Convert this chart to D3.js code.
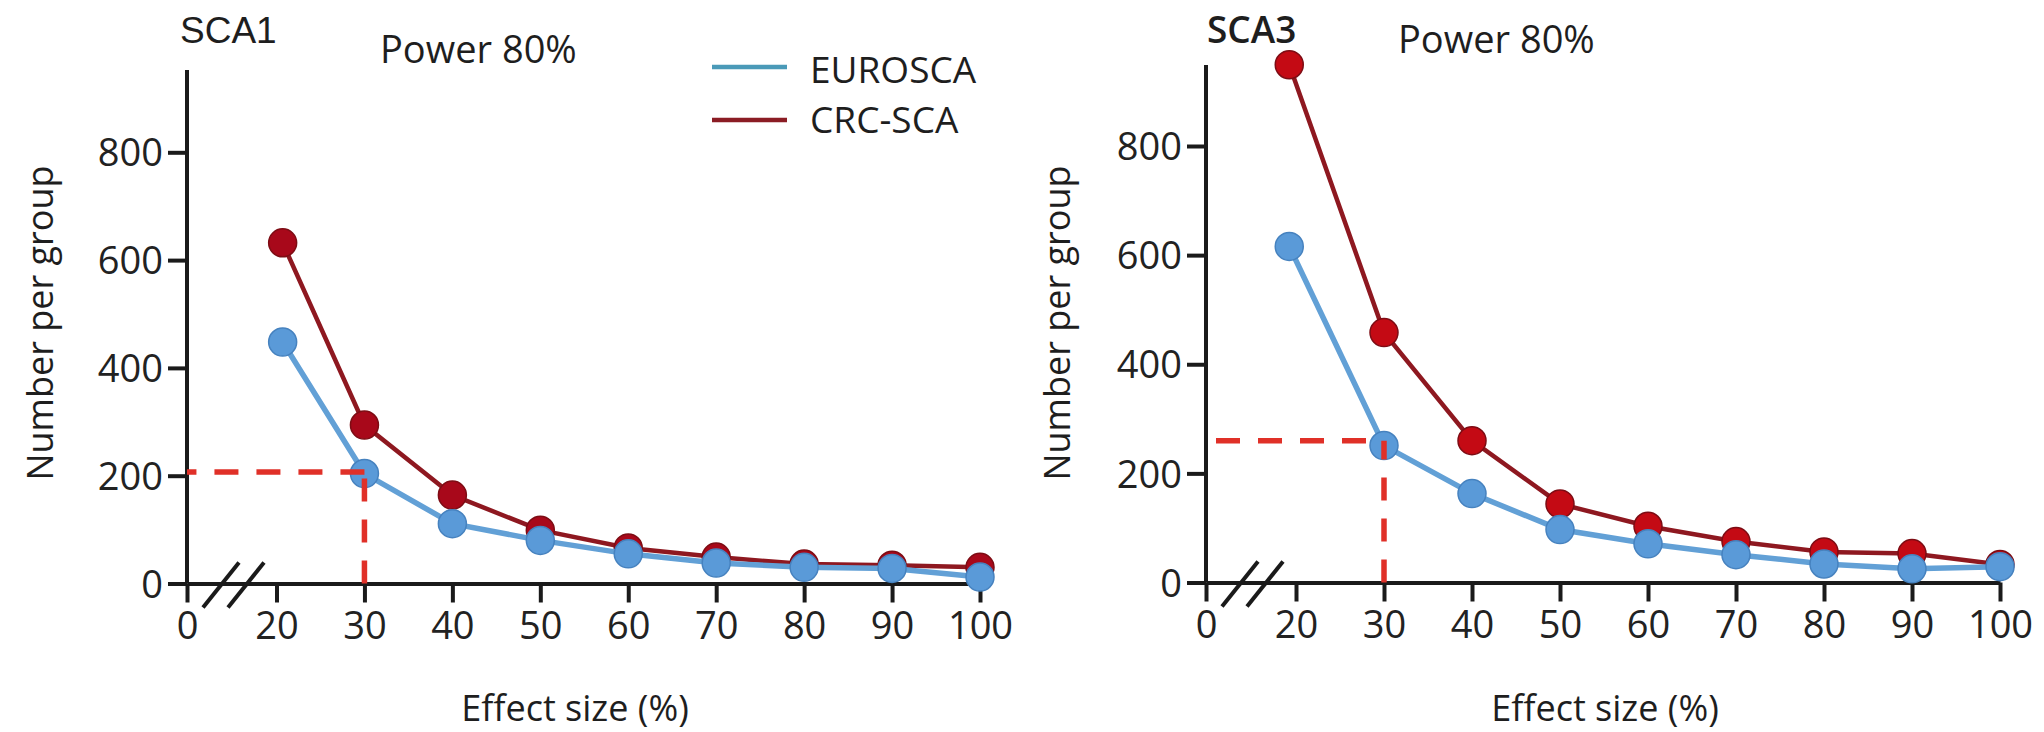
<!DOCTYPE html>
<html>
<head>
<meta charset="utf-8">
<title>Sample size per group, power 80%</title>
<script src="https://cdn.jsdelivr.net/npm/d3@7"></script>
<style>
  html, body { margin: 0; padding: 0; background: #fff; }
  svg { display: block; }
  .tick text { font-family: "Open Sans", sans-serif; font-size: 38px; fill: #222; }
  .tick line { stroke: #1a1a1a; stroke-width: 4px; }
  .lbl { font-family: "Open Sans", sans-serif; fill: #1e1e1e; }
</style>
<script>
// x values are effect sizes (%), y values are number per group
var effectTicks = [0, 20, 30, 40, 50, 60, 70, 80, 90, 100];
var nTicks = [0, 200, 400, 600, 800];

var sca1Effect = [20.7, 30, 40, 50, 60, 70, 80, 90, 100];
var sca1Euro   = [448, 204, 111, 80, 55, 38, 30, 28, 12];
var sca1Crc    = [632, 294, 164, 99, 66, 49, 36, 34, 30];
var sca1Ref    = [30, 207];   // dashed guide: effect, n

var sca3Effect = [18.5, 30, 40, 50, 60, 70, 80, 90, 100];
var sca3Euro   = [616, 251, 163, 97, 71, 51, 34, 25, 29];
var sca3Crc    = [949, 458, 260, 144, 103, 75, 56, 53, 33];
var sca3Ref    = [30, 260];

var seriesNames = ['EUROSCA', 'CRC-SCA'];

// layout of the two panels (pixels)
var panels = [
  { title: 'SCA1', titleFont: '"Liberation Sans", Arial, sans-serif', titleWeight: 400,
    titleX: 180, powerX: 380, powerY: 63,
    x0: 187, x20: 276.5, x100: 980, y0: 583.5, y800: 152.3, yTop: 70,
    effect: sca1Effect, euro: sca1Euro, crc: sca1Crc, ref: sca1Ref,
    crcDot: '#a8081a', refOffset: 0,
    yLabelX: 40, xLabelX: 575 },
  { title: 'SCA3', titleFont: '"Open Sans", sans-serif', titleWeight: 600,
    titleX: 1207, powerX: 1398, powerY: 53,
    x0: 1206, x20: 1296, x100: 2000, y0: 582.5, y800: 146, yTop: 65,
    effect: sca3Effect, euro: sca3Euro, crc: sca3Crc, ref: sca3Ref,
    crcDot: '#c40a14', refOffset: 24,
    yLabelX: 1057, xLabelX: 1605 }
];

var EURO_LINE = '#62a0d6', EURO_DOT = '#5a9ad8', EURO_EDGE = '#4682bf';
var CRC_LINE = '#8e1820', CRC_EDGE = '#7d0c14';
var REF_RED = '#e03028';

window.onload = function () {
  var svg = d3.select('body').append('svg')
    .attr('width', 2044).attr('height', 732);

  panels.forEach(function (p) {
    var g = svg.append('g');
    var x = d3.scaleLinear().domain([0, 20, 100]).range([p.x0, p.x20, p.x100]);
    var y = d3.scaleLinear().domain([0, 800]).range([p.y0, p.y800]);

    // y axis
    var yAx = g.append('g').attr('transform', 'translate(' + p.x0 + ',0)')
      .call(d3.axisLeft(y).tickValues(nTicks).tickSize(19).tickPadding(5).tickSizeOuter(0));
    yAx.select('.domain').remove();
    yAx.selectAll('.tick text').attr('dy', '0.36em');
    g.append('line')
      .attr('x1', p.x0).attr('x2', p.x0)
      .attr('y1', p.yTop).attr('y2', p.y0)
      .attr('stroke', '#1a1a1a').attr('stroke-width', 4);

    // x axis with break
    var xAx = g.append('g').attr('transform', 'translate(0,' + p.y0 + ')')
      .call(d3.axisBottom(x).tickValues(effectTicks).tickSize(19).tickPadding(10).tickSizeOuter(0));
    xAx.select('.domain').attr('stroke', '#1a1a1a').attr('stroke-width', 4);
    [16, 41].forEach(function (dx) {
      g.append('line')
        .attr('x1', p.x0 + dx).attr('y1', p.y0 + 24)
        .attr('x2', p.x0 + dx + 36).attr('y2', p.y0 - 21)
        .attr('stroke', '#1a1a1a').attr('stroke-width', 4);
    });

    var line = d3.line()
      .x(function (d, i) { return x(p.effect[i]); })
      .y(function (d) { return y(d); });

    // CRC-SCA
    g.append('path').datum(p.crc)
      .attr('d', line).attr('fill', 'none')
      .attr('stroke', CRC_LINE).attr('stroke-width', 4.5);
    g.selectAll('.crc').data(p.crc).enter().append('circle')
      .attr('cx', function (d, i) { return x(p.effect[i]); })
      .attr('cy', function (d) { return y(d); })
      .attr('r', 14).attr('fill', p.crcDot)
      .attr('stroke', CRC_EDGE).attr('stroke-width', 1.5);

    // EUROSCA
    g.append('path').datum(p.euro)
      .attr('d', line).attr('fill', 'none')
      .attr('stroke', EURO_LINE).attr('stroke-width', 5.5);
    g.selectAll('.euro').data(p.euro).enter().append('circle')
      .attr('cx', function (d, i) { return x(p.effect[i]); })
      .attr('cy', function (d) { return y(d); })
      .attr('r', 14).attr('fill', EURO_DOT)
      .attr('stroke', EURO_EDGE).attr('stroke-width', 1.5);

    // dashed guide at effect 30%
    g.append('line')
      .attr('x1', x(p.ref[0])).attr('x2', x(p.ref[0]))
      .attr('y1', y(0)).attr('y2', y(p.ref[1]))
      .attr('stroke', REF_RED).attr('stroke-width', 5.5)
      .attr('stroke-dasharray', '23,18');
    g.append('line')
      .attr('x1', x(p.ref[0])).attr('x2', p.x0)
      .attr('y1', y(p.ref[1])).attr('y2', y(p.ref[1]))
      .attr('stroke', REF_RED).attr('stroke-width', 5.5)
      .attr('stroke-dasharray', '24,18').attr('stroke-dashoffset', p.refOffset);

    // texts
    g.append('text').attr('class', 'lbl')
      .attr('x', p.titleX).attr('y', 43)
      .style('font-family', p.titleFont).style('font-weight', p.titleWeight)
      .style('font-size', '37px').text(p.title);
    g.append('text').attr('class', 'lbl')
      .attr('x', p.powerX).attr('y', p.powerY)
      .style('font-size', '38px').text('Power 80%');
    g.append('text').attr('class', 'lbl')
      .attr('transform', 'translate(' + (p.yLabelX + 13) + ',323) rotate(-90)')
      .attr('text-anchor', 'middle')
      .style('font-size', '36px').text('Number per group');
    g.append('text').attr('class', 'lbl')
      .attr('x', p.xLabelX).attr('y', 721)
      .attr('text-anchor', 'middle')
      .style('font-size', '36px').text('Effect size (%)');
  });

  // legend
  var legColors = ['#4a9ab8', '#8b1c24'];
  var leg = svg.append('g');
  seriesNames.forEach(function (name, i) {
    leg.append('line')
      .attr('x1', 712).attr('x2', 787)
      .attr('y1', 67 + i * 53).attr('y2', 67 + i * 53)
      .attr('stroke', legColors[i]).attr('stroke-width', 4.5);
    leg.append('text').attr('class', 'lbl')
      .attr('x', 810).attr('y', 83 + i * 50)
      .style('font-size', '37px').text(name);
  });
};
</script>
</head>
<body>
</body>
</html>
